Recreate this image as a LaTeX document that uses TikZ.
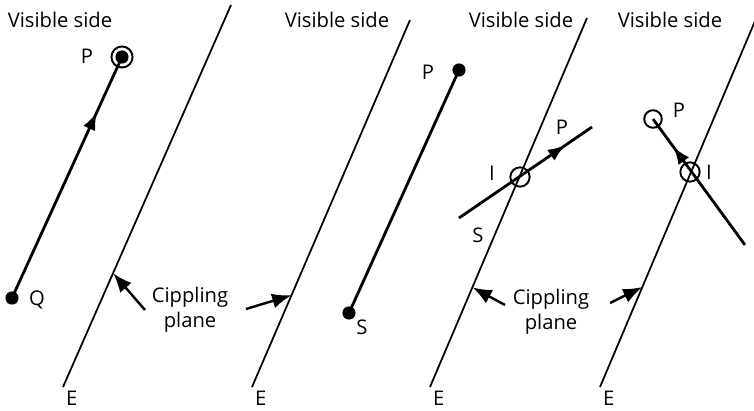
\documentclass[tikz,border=0pt]{standalone}
\usepackage{fontspec}
\setmainfont{Open Sans}
\usetikzlibrary{positioning, calc, arrows.meta, decorations.markings}

\begin{document}
\begin{tikzpicture}[
  x=0.02cm, y=-0.02cm,
  font=\fontsize{11.5}{14}\selectfont,
  plane/.style={line width=1pt},
  seg/.style={line width=1.6pt},
  pointer/.style={line width=1.4pt, -{Latex[length=11pt,width=8.5pt]}},
  dot/.style={circle, fill, inner sep=0pt, minimum size=7.5pt},
  ring/.style={circle, draw, line width=1.1pt, inner sep=0pt, minimum size=#1},
  ring/.default=11pt,
  midarrow/.style={postaction={decorate}, decoration={markings,
    mark=at position #1 with {\arrow{Latex[length=10pt,width=7.5pt]}}}},
  lbl/.style={inner sep=1pt},
]
\useasboundingbox (0,0) rectangle (754,411);

% Headings
\node[lbl] (vis1) at (60,20) {Visible side};
\node[lbl] (vis2) at (337,20) {Visible side};
\node[lbl] (vis3) at (521,20) {Visible side};
\node[lbl] (vis4) at (670,20) {Visible side};

% Clipping planes
\coordinate (e1) at (63,387);  \coordinate (t1) at (231,5);
\coordinate (e2) at (252,387); \coordinate (t2) at (410,20);
\coordinate (e3) at (430,387); \coordinate (t3) at (587,18);
\coordinate (e4) at (600,387); \coordinate (t4) at (758,14);
\foreach \i in {1,2,3,4} {
  \draw[plane] (e\i) -- (t\i);
  \node[lbl, below=1pt of e\i, xshift=5pt] (lE\i) {E};
}

% Panel 1: segment fully visible
\node[ring=12pt] (p1) at (122,57) {};
\node[dot] (p1d) at (122,57) {};
\node[dot] (q1) at (12,298) {};
\node[lbl] (lP1) at (87,56) {P};
\node[lbl] (lQ1) at (37,300) {Q};
\draw[seg, midarrow=0.77] (q1.center) -- (p1d.center);
\node[lbl, align=center] (cp1) at (190,310) {Cippling\\plane};
\draw[pointer] (145,310) -- ($(e1)!0.298!(t1)$);

% Panel 2: segment fully hidden
\node[dot] (p2) at (459,70) {};
\node[dot] (s2) at (349,313) {};
\node[lbl] (lP2) at (428,72) {P};
\node[lbl] (lS2) at (362,327) {S};
\draw[seg] (s2.center) -- (p2.center);
\coordinate (a2) at (246,309);
\draw[pointer] (a2) -- ($(e2)!0.25!(t2)$);

% Panel 3: entering the visible side
\coordinate (s3) at (459,218);
\coordinate (p3) at (592,127);
\node[ring] (i3) at (520,177) {};
\node[lbl] (lI3) at (492,173) {I};
\node[lbl] (lP3) at (562,127) {P};
\node[lbl] (lS3) at (478,235) {S};
\draw[seg, midarrow=0.8] (s3) -- (p3);
\node[lbl, align=center] (cp3) at (551,312) {Cippling\\plane};
\draw[pointer] (505,305) -- ($(e3)!0.27!(t3)$);

% Panel 4: leaving the visible side
\node[ring=10pt] (p4) at (653,119) {};
\coordinate (s4) at (745,245);
\node[ring] (i4) at (690,172) {};
\node[lbl] (lP4) at (679,110) {P};
\node[lbl] (lI4) at (709,172) {I};
\node[lbl] (lS4) at (759,250) {S};
\draw[seg, midarrow=0.78] (s4) -- (p4.center);
\draw[pointer] (610,303) -- ($(e4)!0.268!(t4)$);
\end{tikzpicture}
\end{document}
